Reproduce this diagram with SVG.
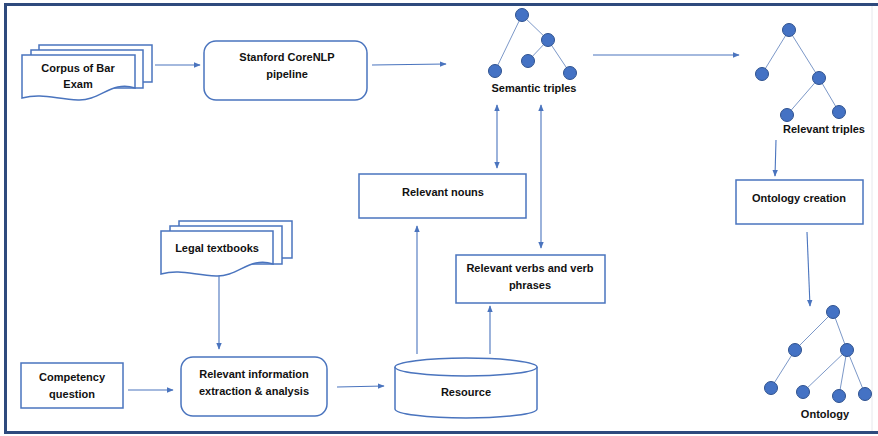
<svg xmlns="http://www.w3.org/2000/svg" width="878" height="436" viewBox="0 0 878 436">
<defs>
<marker id="ah" viewBox="0 0 10 10" refX="9" refY="5" markerWidth="7" markerHeight="7" orient="auto-start-reverse" markerUnits="userSpaceOnUse">
<path d="M0,1 L10,5 L0,9 Z" fill="#4A74BE"/>
</marker>
<style>
.bx{fill:#fff;stroke:#4A74BE;stroke-width:1.5}
.ln{fill:none;stroke:#4A74BE;stroke-width:1.1}
.ed{fill:none;stroke:#7C98C8;stroke-width:1}
.nd{fill:#4472C4;stroke:#2F528F;stroke-width:1}
.t{font-family:"Liberation Sans",Arial,sans-serif;font-weight:bold;font-size:11px;fill:#111;text-anchor:middle}
</style>
</defs>
<rect x="0" y="0" width="878" height="436" fill="#fff"/>
<!-- frame -->
<line x1="4" y1="4.5" x2="878" y2="4.5" stroke="#2E4A7D" stroke-width="3"/>
<line x1="5.5" y1="3" x2="5.5" y2="434" stroke="#2E4A7D" stroke-width="3"/>
<line x1="4" y1="432.5" x2="878" y2="432.5" stroke="#2E4A7D" stroke-width="3"/>
<line x1="872" y1="6" x2="872" y2="431" stroke="#E6E8EC" stroke-width="1"/>

<g id="connectors">
<line class="ln" x1="155" y1="65" x2="200" y2="65" marker-end="url(#ah)"/>
<line class="ln" x1="372" y1="65" x2="446" y2="64" marker-end="url(#ah)"/>
<line class="ln" x1="593" y1="55" x2="739" y2="55" marker-end="url(#ah)"/>
<line class="ln" x1="776" y1="140" x2="775" y2="176" marker-end="url(#ah)"/>
<line class="ln" x1="807" y1="232" x2="810" y2="306" marker-end="url(#ah)"/>
<line class="ln" x1="497" y1="105" x2="497" y2="168" marker-start="url(#ah)" marker-end="url(#ah)"/>
<line class="ln" x1="541" y1="105" x2="541" y2="248" marker-start="url(#ah)" marker-end="url(#ah)"/>
<line class="ln" x1="417" y1="354" x2="417" y2="226" marker-end="url(#ah)"/>
<line class="ln" x1="490" y1="354" x2="490" y2="306" marker-end="url(#ah)"/>
<line class="ln" x1="219" y1="276" x2="219" y2="349" marker-end="url(#ah)"/>
<line class="ln" x1="128" y1="390" x2="173" y2="390" marker-end="url(#ah)"/>
<line class="ln" x1="337" y1="387" x2="384" y2="386" marker-end="url(#ah)"/>
</g>

<g id="corpus">
<rect class="bx" x="39" y="45" width="113" height="37"/>
<rect class="bx" x="31" y="50" width="112" height="38"/>
<path class="bx" d="M22,55 H135 V88 C112,80 100,101 78,100 C55,99 42,93 22,98 Z"/>
<text class="t" x="78" y="72">Corpus of Bar</text>
<text class="t" x="78" y="88">Exam</text>
</g>

<g id="stanford">
<rect class="bx" x="204" y="41" width="163" height="59" rx="12"/>
<text class="t" x="287" y="61">Stanford CoreNLP</text>
<text class="t" x="287" y="78">pipeline</text>
</g>

<g id="semantic-triples">
<line class="ed" x1="522" y1="15" x2="495" y2="71"/>
<line class="ed" x1="522" y1="15" x2="548" y2="40"/>
<line class="ed" x1="548" y1="40" x2="528" y2="61"/>
<line class="ed" x1="548" y1="40" x2="570" y2="73"/>
<circle class="nd" cx="522" cy="15" r="6.5"/>
<circle class="nd" cx="548" cy="40" r="6.5"/>
<circle class="nd" cx="528" cy="61" r="6.5"/>
<circle class="nd" cx="495" cy="71" r="6.5"/>
<circle class="nd" cx="570" cy="73" r="6.5"/>
<text class="t" x="534" y="92">Semantic triples</text>
</g>

<g id="relevant-triples">
<line class="ed" x1="789" y1="30" x2="762" y2="74"/>
<line class="ed" x1="789" y1="30" x2="819" y2="78"/>
<line class="ed" x1="819" y1="78" x2="787" y2="115"/>
<line class="ed" x1="819" y1="78" x2="839" y2="112"/>
<circle class="nd" cx="789" cy="30" r="6.5"/>
<circle class="nd" cx="762" cy="74" r="6.5"/>
<circle class="nd" cx="819" cy="78" r="6.5"/>
<circle class="nd" cx="787" cy="115" r="6.5"/>
<circle class="nd" cx="839" cy="112" r="6.5"/>
<text class="t" x="824" y="133">Relevant triples</text>
</g>

<g id="ontology-creation">
<rect class="bx" x="736" y="180" width="127" height="44"/>
<text class="t" x="799" y="202">Ontology creation</text>
</g>

<g id="ontology">
<line class="ed" x1="833" y1="312" x2="795" y2="350"/>
<line class="ed" x1="833" y1="312" x2="847" y2="350"/>
<line class="ed" x1="795" y1="350" x2="771" y2="388"/>
<line class="ed" x1="847" y1="350" x2="803" y2="392"/>
<line class="ed" x1="847" y1="350" x2="839" y2="396"/>
<line class="ed" x1="847" y1="350" x2="865" y2="394"/>
<circle class="nd" cx="833" cy="312" r="6.5"/>
<circle class="nd" cx="795" cy="350" r="6.5"/>
<circle class="nd" cx="847" cy="350" r="6.5"/>
<circle class="nd" cx="771" cy="388" r="6.5"/>
<circle class="nd" cx="803" cy="392" r="6.5"/>
<circle class="nd" cx="839" cy="396" r="6.5"/>
<circle class="nd" cx="865" cy="394" r="6.5"/>
<text class="t" x="825" y="418">Ontology</text>
</g>

<g id="relevant-nouns">
<rect class="bx" x="359" y="174" width="167" height="44"/>
<text class="t" x="443" y="196">Relevant nouns</text>
</g>

<g id="relevant-verbs">
<rect class="bx" x="456" y="255" width="149" height="48"/>
<text class="t" x="530" y="272">Relevant verbs and verb</text>
<text class="t" x="530" y="289">phrases</text>
</g>

<g id="resource">
<path class="bx" d="M395,367 V409 A71,9 0 0 0 537,409 V367"/>
<ellipse class="bx" cx="466" cy="367" rx="71" ry="9"/>
<text class="t" x="466" y="396">Resource</text>
</g>

<g id="legal-textbooks">
<rect class="bx" x="179" y="221" width="113" height="37"/>
<rect class="bx" x="170" y="226" width="112" height="38"/>
<path class="bx" d="M161,231 H273 V264 C250,256 238,277 216,276 C193,275 180,269 161,274 Z"/>
<text class="t" x="217" y="252">Legal textbooks</text>
</g>

<g id="competency">
<rect class="bx" x="21" y="363" width="102" height="45"/>
<text class="t" x="72" y="381">Competency</text>
<text class="t" x="72" y="398">question</text>
</g>

<g id="extraction">
<rect class="bx" x="181" y="357" width="146" height="59" rx="12"/>
<text class="t" x="254" y="378">Relevant information</text>
<text class="t" x="254" y="395">extraction &amp; analysis</text>
</g>
</svg>
